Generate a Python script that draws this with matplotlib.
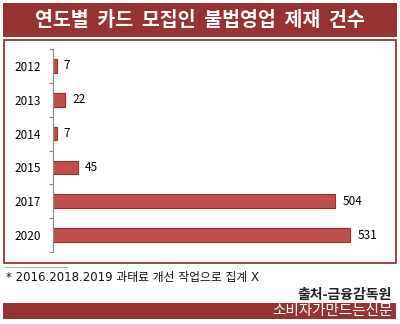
import matplotlib
matplotlib.use("Agg")
import matplotlib.pyplot as plt
from matplotlib.patches import Rectangle
from matplotlib.lines import Line2D

plt.rcParams['font.family'] = ['Noto Sans CJK KR', 'DejaVu Sans']

years = ['2012', '2013', '2014', '2015', '2017', '2020']
counts = [7, 22, 7, 45, 504, 531]

title = '연도별  카드  모집인  불법영업  제재  건수'
note = '* 2016.2018.2019 과태료 개선 작업으로 집계 X'
source = '출처-금융감독원'
brand = '소비자가만드는신문'

W, H = 400, 324
dark_red = '#963232'
bar_red = '#C0504D'
bar_edge = '#9A2E2B'

fig = plt.figure(figsize=(W / 100, H / 100), dpi=100)
fig.patch.set_facecolor('white')

def fx(px):
    return px / W

def fy(py):
    return 1 - py / H

# title banner
fig.patches.append(Rectangle((fx(3), fy(37)), fx(394), 34 / H, transform=fig.transFigure,
                             facecolor=dark_red, edgecolor='none', zorder=0))
fig.text(fx(200), fy(20.5), title, color='white', fontsize=14, fontweight='bold',
         ha='center', va='center')

# chart frame
fig.patches.append(Rectangle((fx(3.5), fy(263)), fx(392), 223 / H, transform=fig.transFigure,
                             facecolor='white', edgecolor=dark_red, linewidth=1.3, zorder=0))

# bar chart
ax = fig.add_axes([fx(53), fy(252), fx(336), 203 / H])
ax.set_zorder(2)
pos = list(range(len(years)))
ax.barh(pos, counts, height=0.4, color=bar_red, edgecolor=bar_edge, linewidth=0.8)
ax.set_ylim(len(years) - 0.5, -0.5)
ax.set_xlim(0, 600)
ax.set_yticks(pos)
ax.set_yticklabels(years, fontsize=8.5)
ax.set_yticks([p - 0.5 for p in pos] + [len(years) - 0.5], minor=True)
ax.tick_params(axis='y', which='major', length=0, pad=9)
ax.tick_params(axis='y', which='minor', length=3, color='#888888', width=0.8)
ax.set_xticks([])
for s in ['top', 'right', 'bottom']:
    ax.spines[s].set_visible(False)
ax.spines['left'].set_color('#888888')
ax.spines['left'].set_linewidth(0.8)
ax.patch.set_alpha(0)
for p, v in zip(pos, counts):
    ax.annotate(str(v), (v, p), xytext=(5, 0), textcoords='offset points',
                va='center', ha='left', fontsize=8.5)

# footnote
fig.lines.append(Line2D([fx(5), fx(67)], [fy(266.5), fy(266.5)], transform=fig.transFigure,
                        color='#999999', linewidth=0.6))
fig.text(fx(6), fy(277), note, fontsize=8.5, ha='left', va='center', color='#111111',
         family=['DejaVu Sans', 'Noto Sans CJK KR'])
fig.text(fx(392), fy(295), source, fontsize=10, fontweight='bold', ha='right', va='center',
         color='#222222')

# bottom banner
fig.patches.append(Rectangle((fx(3), fy(319)), fx(393), 16 / H, transform=fig.transFigure,
                             facecolor=dark_red, edgecolor='none', zorder=0))
fig.text(fx(393), fy(311), brand, fontsize=10.5, color='white', ha='right', va='center')

fig.savefig('out.png', dpi=100, facecolor='white')
